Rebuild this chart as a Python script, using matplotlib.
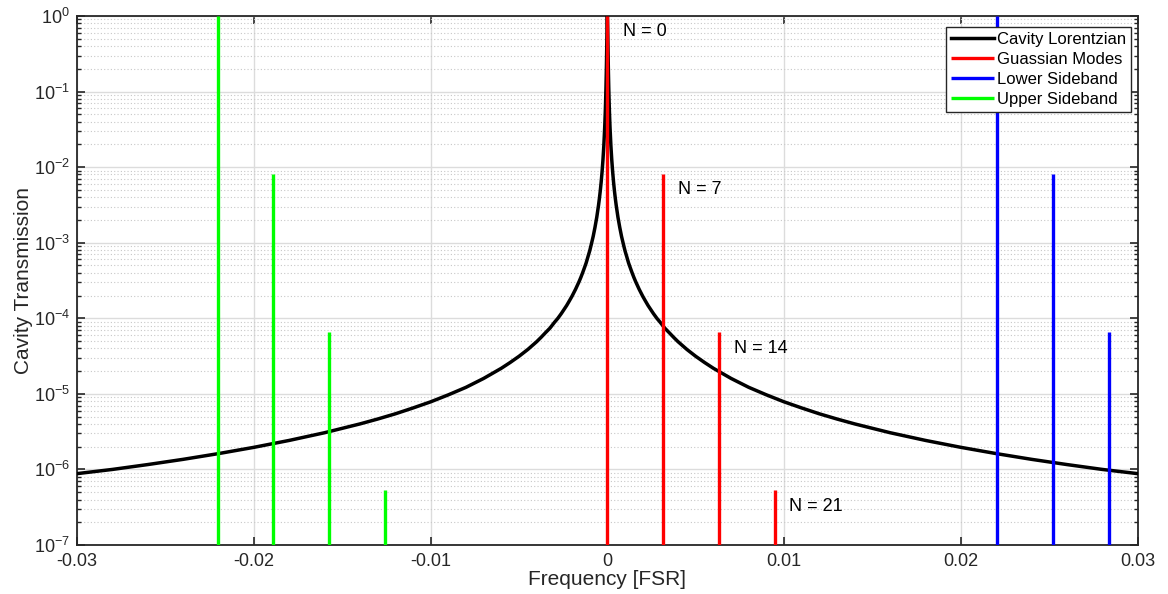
import matplotlib.pyplot as plt
import numpy as np

plt.rcParams['font.family'] = ['Liberation Sans', 'DejaVu Sans']
plt.rcParams['mathtext.fontset'] = 'custom'
plt.rcParams['mathtext.rm'] = 'Liberation Sans'
plt.rcParams['mathtext.it'] = 'Liberation Sans:italic'

# cavity lorentzian (positive side, mirrored below)
lor_x = [0.0, 1e-5, 2e-5, 3e-5, 4e-5, 5e-5, 6e-5, 8e-5, 1e-4, 1.2e-4, 1.5e-4,
         2e-4, 2.5e-4, 3e-4, 3.5e-4, 4e-4, 4.5e-4, 5e-4, 6e-4, 7e-4, 8e-4, 9e-4, 1e-3,
         1.1e-3, 1.2e-3, 1.3e-3, 1.4e-3, 1.5e-3, 1.6e-3, 1.8e-3, 2e-3, 2.15e-3, 2.3e-3,
         2.45e-3, 2.6e-3, 2.8e-3, 3e-3, 3.25e-3, 3.5e-3, 3.75e-3,
         4e-3, 4.5e-3, 5e-3, 5.5e-3, 6e-3, 7e-3, 8e-3, 9e-3, 0.010, 0.011, 0.012,
         0.013, 0.014, 0.016, 0.018, 0.020, 0.022, 0.024, 0.026, 0.028, 0.030]
lor_y = [1.0, 0.887, 0.662, 0.466, 0.329, 0.239, 0.179, 0.109, 0.0727, 0.0516, 0.0337,
         0.0192, 0.0124, 0.00864, 0.00636, 0.00488, 0.00386, 0.00313, 0.00217, 0.0016, 0.00122, 9.7e-4, 7.8e-4,
         6.5e-4, 5.4e-4, 4.64e-4, 4.0e-4, 3.48e-4, 3.06e-4, 2.42e-4, 1.96e-4, 1.7e-4, 1.48e-4,
         1.31e-4, 1.16e-4, 1.0e-4, 8.8e-5, 7.4e-5, 6.45e-5, 5.6e-5,
         4.9e-5, 3.87e-5, 3.14e-5, 2.6e-5, 2.18e-5, 1.6e-5, 1.22e-5, 9.7e-6, 7.84e-6, 6.5e-6, 5.44e-6,
         4.64e-6, 4.0e-6, 3.06e-6, 2.42e-6, 1.96e-6, 1.62e-6, 1.36e-6, 1.16e-6, 1.0e-6, 8.8e-7]

mode_x = [0.0, 0.00316, 0.00632, 0.00948]
mode_y = [1.0, 8.0e-3, 6.5e-5, 5.3e-7]
lower_x = [0.02205, 0.02521, 0.02837]
lower_y = [1.0, 8.0e-3, 6.5e-5]
upper_x = [-0.02205, -0.01889, -0.01573, -0.01257]
upper_y = [1.0, 8.0e-3, 6.5e-5, 5.3e-7]

labels = ['N = 0', 'N = 7', 'N = 14', 'N = 21']
label_x = [0.0009, 0.0040, 0.00715, 0.01025]
label_y = [0.63, 5.0e-3, 4.0e-5, 3.2e-7]

ybot = 1e-7

fig = plt.figure(figsize=(11.68, 5.94), dpi=100)
ax = fig.add_axes([0.066, 0.0825, 0.908, 0.8905])

xs = np.array(lor_x)
ys = np.array(lor_y)
full_x = np.concatenate([-xs[::-1], xs[1:]])
full_y = np.concatenate([ys[::-1], ys[1:]])

ax.plot(full_x, full_y, color='black', lw=2.5, label='Cavity Lorentzian', zorder=3,
        solid_joinstyle='round')
ax.vlines(mode_x, ybot, mode_y, color=(1, 0, 0), lw=2.4, label='Guassian Modes', zorder=4)
ax.vlines(lower_x, ybot, lower_y, color=(0, 0, 1), lw=2.4, label='Lower Sideband', zorder=4)
ax.vlines(upper_x, ybot, upper_y, color=(0, 1, 0), lw=2.4, label='Upper Sideband', zorder=4)

for t, x, y in zip(labels, label_x, label_y):
    ax.text(x, y, t, fontsize=13, va='center', ha='left', color='black')

ax.set_yscale('log')
ax.set_xlim(-0.03, 0.03)
ax.set_ylim(1e-7, 1)
ax.set_xticks([-0.03, -0.02, -0.01, 0, 0.01, 0.02, 0.03])
ax.set_xticklabels(['-0.03', '-0.02', '-0.01', '0', '0.01', '0.02', '0.03'])
ax.set_yticks([10.0 ** k for k in range(-7, 1)])
ax.yaxis.set_minor_locator(plt.matplotlib.ticker.LogLocator(base=10, subs=np.arange(2, 10), numticks=20))
ax.yaxis.set_minor_formatter(plt.matplotlib.ticker.NullFormatter())

ax.grid(True, which='major', color='#dcdcdc', lw=1.0, ls='-')
ax.grid(True, which='minor', axis='y', color='#c8c8c8', lw=0.8, ls=(0, (1, 2)))
ax.set_axisbelow(True)

ax.tick_params(which='both', direction='in', top=True, right=True, colors='#262626', labelsize=13)
ax.tick_params(which='major', length=6, width=1.2)
ax.tick_params(axis='x', which='major', pad=6)
ax.tick_params(axis='y', which='major', pad=5)
ax.tick_params(which='minor', length=3, width=1.0)
for s in ax.spines.values():
    s.set_color('#262626')
    s.set_linewidth(1.3)

ax.set_xlabel('Frequency [FSR]', fontsize=15, color='#262626', labelpad=0)
ax.set_ylabel('Cavity Transmission', fontsize=15, color='#262626', labelpad=1)

leg = ax.legend(loc='upper right', bbox_to_anchor=(0.9934, 0.979), borderaxespad=0,
                fontsize=12, frameon=True, fancybox=False,
                edgecolor='#262626', framealpha=1, borderpad=0.3, labelspacing=0.3,
                handlelength=2.6, handletextpad=0.15)
leg.get_frame().set_linewidth(1.0)

fig.savefig('out.png', dpi=100)
